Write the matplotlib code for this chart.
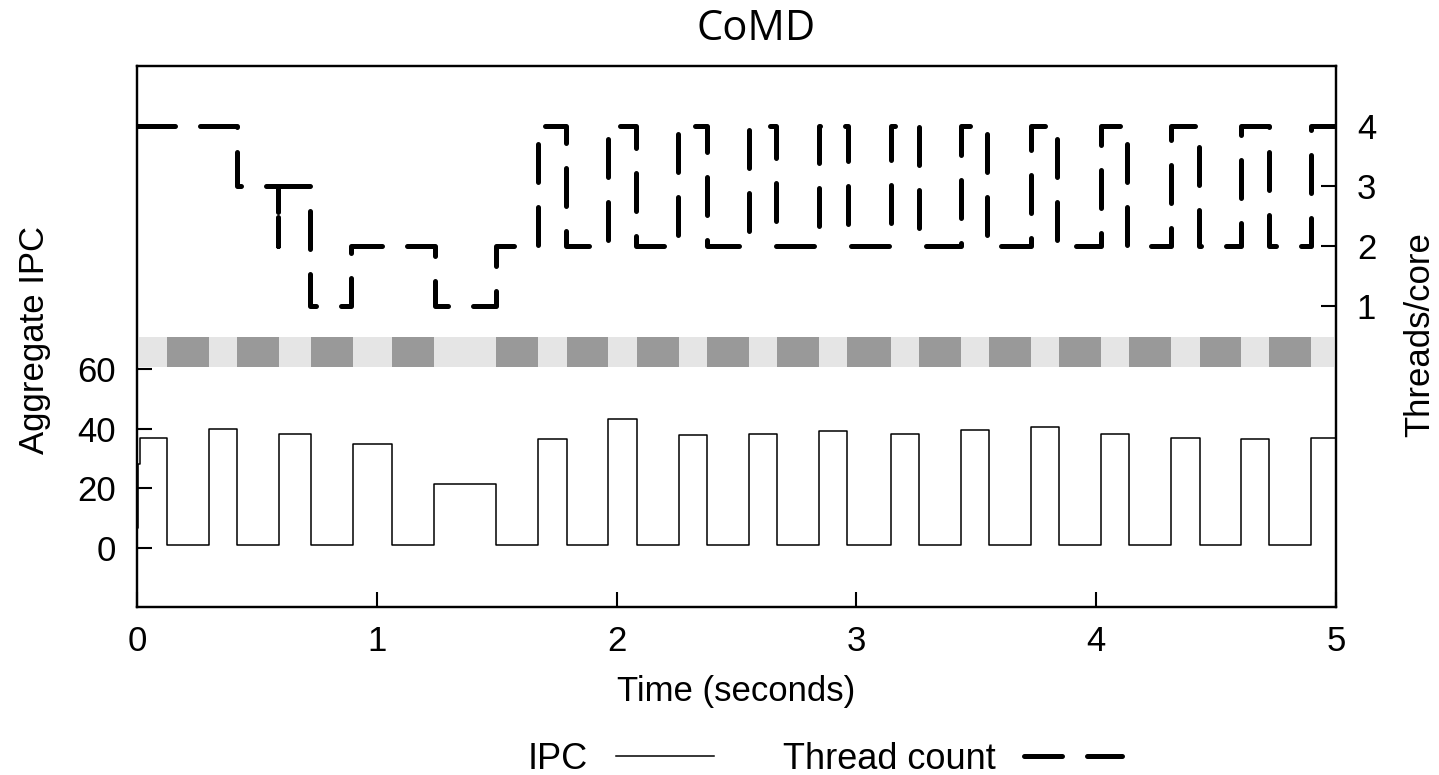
import matplotlib
matplotlib.use('Agg')
import matplotlib.pyplot as plt

plt.rcParams['font.family'] = ['Liberation Sans', 'DejaVu Sans']

# Aggregate IPC, step breakpoints (time in s, value held until next point)
ipc_time = [0, 0.004, 0.014, 0.125, 0.302, 0.417, 0.591, 0.727, 0.902, 1.063,
            1.237, 1.498, 1.674, 1.792, 1.964, 2.087, 2.260, 2.378, 2.551, 2.670,
            2.844, 2.962, 3.146, 3.261, 3.437, 3.551, 3.730, 3.845, 4.020, 4.137,
            4.313, 4.431, 4.605, 4.722, 4.895, 5.0]
ipc_value = [6.5, 28, 37.0, 1, 39.8, 1, 38.1, 1, 35.0, 1,
             21.4, 1, 36.4, 1, 43.4, 1, 38.0, 1, 38.1, 1,
             39.1, 1, 38.3, 1, 39.6, 1, 40.7, 1, 38.3, 1,
             36.8, 1, 36.5, 1, 37.0, 37.0]

# Threads per core, step breakpoints
thread_time = [0, 0.415, 0.589, 0.589, 0.722, 0.894, 1.242, 1.499, 1.672, 1.790,
               1.964, 2.082, 2.258, 2.378, 2.554, 2.665, 2.846, 2.964, 3.145, 3.2625,
               3.4375, 3.546, 3.728, 3.8375, 4.019, 4.129, 4.311, 4.429, 4.603, 4.721,
               4.895, 5.0]
thread_value = [4, 3, 2, 3, 1, 2, 1, 2, 4, 2,
                4, 2, 4, 2, 4, 2, 4, 2, 4, 2,
                4, 2, 4, 2, 4, 2, 4, 2, 4, 2,
                4, 4]

x_ticks = [0, 1, 2, 3, 4, 5]
ipc_ticks = [0, 20, 40, 60]
thread_ticks = [1, 2, 3, 4]

fig = plt.figure(figsize=(14.39, 7.75), dpi=100)
ax = fig.add_axes([0.0952, 0.2168, 0.8332, 0.698])
ax2 = ax.twinx()

# IPC line
ax.plot(ipc_time, ipc_value, drawstyle='steps-post', color='black', lw=1.1)
ax.set_xlim(0, 5)
ax.set_ylim(-20, 162)
ax.set_xticks(x_ticks)
ax.set_yticks(ipc_ticks)

# phase band: dark where IPC is low
ax2.broken_barh([(0, 5)], (0, 0.5), facecolor='#e5e5e5', edgecolor='none', zorder=1)
low = [(ipc_time[i], ipc_time[i + 1] - ipc_time[i])
       for i in range(len(ipc_value) - 1) if ipc_value[i] < 5 and i > 0]
ax2.broken_barh(low, (0, 0.5), facecolor='#999999', edgecolor='none', zorder=2)

# thread count
ax2.plot(thread_time, thread_value, drawstyle='steps-post', color='black', lw=3.6,
         dashes=(7.6, 5.0), dash_capstyle='round', solid_capstyle='round', zorder=3)
ax2.set_ylim(-4, 5)
ax2.set_yticks(thread_ticks)

for a in (ax, ax2):
    for s in a.spines.values():
        s.set_linewidth(1.6)
ax.tick_params(axis='x', direction='in', length=10.8, width=1.5, labelsize=25, pad=13,
               top=False)
ax.tick_params(axis='y', direction='in', length=10.8, width=1.5, labelsize=25, pad=15,
               right=False)
ax2.tick_params(axis='y', direction='in', length=10.8, width=1.5, labelsize=25, pad=15)

fig.text(35 / 1439, 1 - 340 / 775, 'Aggregate IPC', rotation=90, ha='center', va='center',
         fontsize=25)
fig.text(1420 / 1439, 1 - 335 / 775, 'Threads/core', rotation=90, ha='center', va='center',
         fontsize=25)
fig.text(736 / 1439, 1 - 692 / 775, 'Time (seconds)', ha='center', va='center', fontsize=25)
fig.text(756 / 1439, 1 - 40 / 775, 'CoMD', ha='center', va='baseline', fontsize=30,
         family=['Open Sans', 'DejaVu Sans'])

h1 = plt.Line2D([], [], color='black', lw=1.1)
h2 = plt.Line2D([], [], color='black', lw=3.6, dashes=(7.6, 5.0), dash_capstyle='round')
fig.legend([h1, h2], ['IPC', 'Thread count'], loc='center', bbox_to_anchor=(0.573, 0.02),
           ncol=2, frameon=False, markerfirst=False, handlelength=2.7, handletextpad=0.8,
           columnspacing=1.9, fontsize=26)

fig.savefig('out.png', dpi=100)
